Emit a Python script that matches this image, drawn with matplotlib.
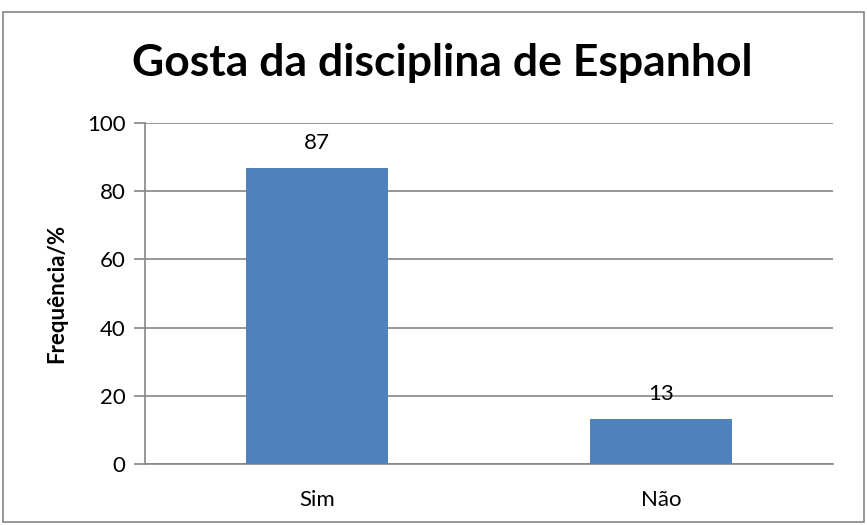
import matplotlib.pyplot as plt
from matplotlib.patches import Rectangle

categories = ["Sim", "Não"]
values = [86.7, 13.3]
labels = ["87", "13"]

plt.rcParams["font.family"] = ["Lato", "DejaVu Sans"]

fig = plt.figure(figsize=(8.67, 5.25), dpi=100)
ax = fig.add_axes([0.1672, 0.1162, 0.7936, 0.6495])

# outer chart border
fig.patches.append(Rectangle((0.004, 0.005), 0.992, 0.972, transform=fig.transFigure,
                             fill=False, edgecolor="#868686", linewidth=1.2))

x = range(len(categories))
bars = ax.bar(x, values, width=0.41, color="#4F81BD", zorder=3)

for b, lab in zip(bars, labels):
    ax.text(b.get_x() + b.get_width() / 2, b.get_height() + 5.6, lab,
            ha="center", va="baseline", fontsize=16, zorder=4)

ax.set_xlim(-0.5, 1.5)
ax.set_ylim(0, 100)
ax.set_yticks([0, 20, 40, 60, 80, 100])
ax.set_xticks(list(x))
ax.set_xticklabels(categories)
ax.grid(axis="y", color="#868686", linewidth=1.2, zorder=0)

for s in ["top", "right"]:
    ax.spines[s].set_visible(False)
ax.spines["left"].set_color("#868686")
ax.spines["bottom"].set_color("#868686")
ax.spines["left"].set_linewidth(1.2)
ax.spines["bottom"].set_linewidth(1.2)

ax.tick_params(axis="y", length=8, width=1.2, color="#868686", labelsize=16, pad=6)
ax.tick_params(axis="x", length=0, labelsize=16, pad=19)

ax.set_ylabel("Frequência/%", fontsize=16, fontweight="bold", labelpad=14)

fig.text(0.51, 1 - 76 / 525, "Gosta da disciplina de Espanhol", ha="center", va="baseline",
         fontsize=32, fontweight="bold")

fig.savefig("out.png", dpi=100)
